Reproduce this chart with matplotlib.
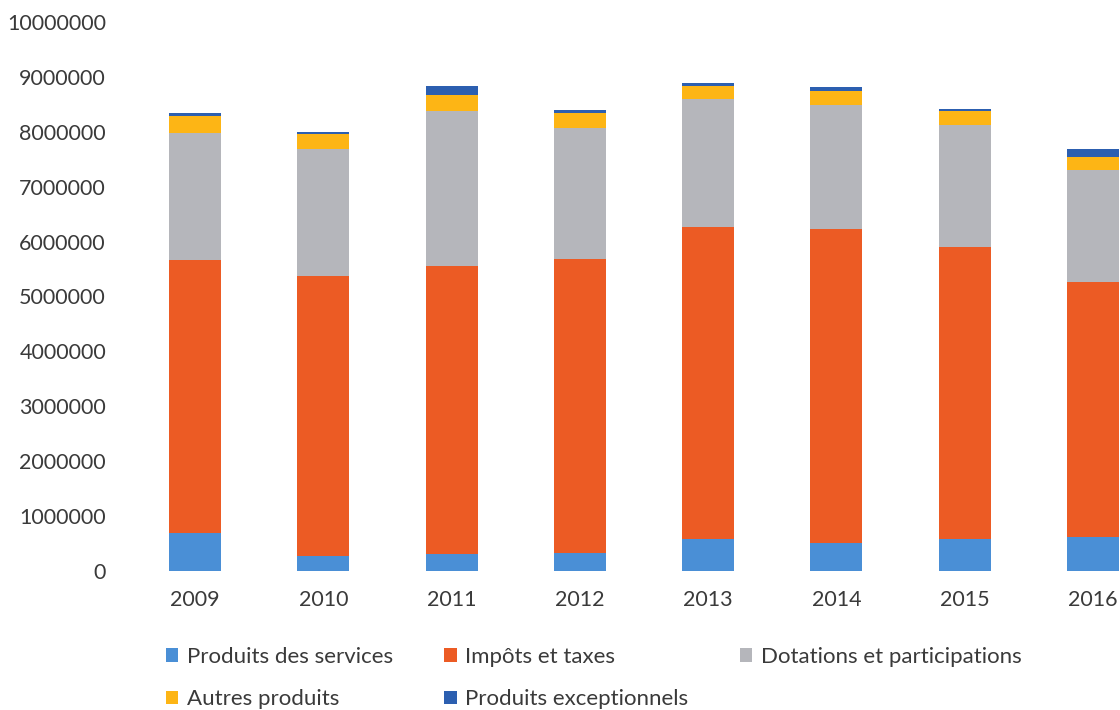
import numpy as np
import matplotlib
matplotlib.use("Agg")
import matplotlib.pyplot as plt

years = ["2009", "2010", "2011", "2012", "2013", "2014", "2015", "2016"]
services = [690000, 270000, 310000, 330000, 580000, 510000, 580000, 620000]
impots = [4980000, 5110000, 5250000, 5360000, 5680000, 5720000, 5320000, 4650000]
dotations = [2310000, 2310000, 2820000, 2380000, 2330000, 2250000, 2230000, 2040000]
autres = [310000, 270000, 290000, 280000, 240000, 270000, 240000, 230000]
exceptionnels = [60000, 40000, 170000, 50000, 50000, 60000, 40000, 150000]

series = [
    ("Produits des services", services, "#4a8fd6"),
    ("Impôts et taxes", impots, "#ec5b24"),
    ("Dotations et participations", dotations, "#b5b6bb"),
    ("Autres produits", autres, "#fdb515"),
    ("Produits exceptionnels", exceptionnels, "#2c5fb0"),
]

plt.rcParams["font.family"] = ["Lato", "DejaVu Sans"]

fig = plt.figure(figsize=(11.2, 7.1), dpi=100)
ax = fig.add_axes([131 / 1120, 139 / 710, 1026 / 1120, 549 / 710])

x = np.arange(len(years))
bottom = np.zeros(len(years))
handles = {}
for name, vals, color in series:
    b = ax.bar(x, vals, 0.405, bottom=bottom, color=color, label=name)
    handles[name] = b
    bottom += np.array(vals)

ax.set_xlim(-0.5, len(years) - 0.5)
ax.set_ylim(0, 10000000)
ax.set_yticks(np.arange(0, 10000001, 1000000))
ax.set_yticklabels([str(v) for v in range(0, 10000001, 1000000)])
ax.set_xticks(x)
ax.set_xticklabels(years)
ax.tick_params(axis="both", length=0, labelsize=15.5, colors="#3a3a3a")
ax.tick_params(axis="x", pad=14)
ax.tick_params(axis="y", pad=18)
for s in ax.spines.values():
    s.set_visible(False)

order = ["Produits des services", "Autres produits", "Impôts et taxes",
         "Produits exceptionnels", "Dotations et participations"]
fig.legend([handles[n] for n in order], order, ncol=3, loc="upper left",
           bbox_to_anchor=(146 / 1120, 1 - 627 / 710), frameon=False,
           fontsize=16, handlelength=0.55, handleheight=0.55, handletextpad=0.4,
           columnspacing=2.3, labelspacing=1.0, labelcolor="#3a3a3a")

fig.savefig("out.png", dpi=100)
